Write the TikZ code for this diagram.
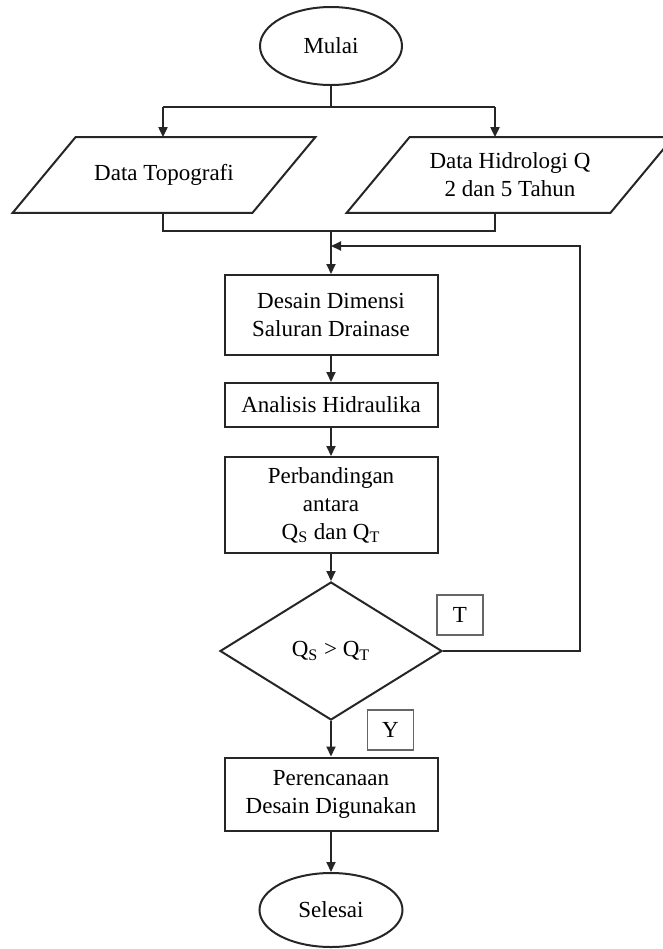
\documentclass[tikz,border=0pt]{standalone}
\usepackage{fontspec}
\setmainfont{Liberation Serif}
\usetikzlibrary{shapes.geometric, arrows.meta}

\tikzset{
  garis/.style={line width=1pt, draw=black!85},
  panah/.style={garis, -{Triangle[width=4.5pt,length=5pt]}},
  terminal/.style={ellipse, garis, align=center, inner sep=0pt},
  proses/.style={rectangle, garis, align=center, inner sep=0pt, minimum width=106.5pt},
  masukan/.style={rectangle, align=center, inner sep=0pt, minimum height=37.5pt},
  keputusan/.style={diamond, garis, align=center, inner sep=0pt,
    minimum width=111pt, minimum height=69pt},
  label/.style={rectangle, draw=black!60, line width=0.6pt, inner sep=0pt,
    minimum width=23pt, minimum height=20pt}
}

% jajaran genjang di sekeliling node masukan
\newcommand{\jajargenjang}[1]{%
  \draw[garis] ([xshift=-15.75pt]#1.south west) -- ([xshift=15.75pt]#1.north west)
    -- ([xshift=15.75pt]#1.north east) -- ([xshift=-15.75pt]#1.south east) -- cycle;}

\begin{document}
\begin{tikzpicture}[x=0.5pt, y=-0.5pt, font=\fontsize{11.5}{14}\selectfont]
    \useasboundingbox (0,0) rectangle (663,949);
    \clip (0,0) rectangle (663,949);

    %% mulai
    \node[terminal, minimum width=71pt, minimum height=39pt] (mulai) at (331,46) {Mulai};

    %% data masukan
    \node[masukan, minimum width=119.5pt] (topo) at (164,175) {Data Topografi};
    \node[masukan, minimum width=131.5pt] (hidro) at (510,175)
      {Data Hidrologi Q\\2 dan 5 Tahun};
    \jajargenjang{topo}
    \jajargenjang{hidro}

    %% proses
    \node[proses, minimum height=40pt] (desain) at (331,315)
      {Desain Dimensi\\Saluran Drainase};
    \node[proses, minimum height=22pt] (analisis) at (331,405) {Analisis Hidraulika};
    \node[proses, minimum height=48pt] (banding) at (331,505)
      {Perbandingan\\antara\\Q\textsubscript{S} dan Q\textsubscript{T}};
    \node[keputusan] (cek) at (331,651) {Q\textsubscript{S} > Q\textsubscript{T}};
    \node[proses, minimum height=36.5pt] (rencana) at (331,794)
      {Perencanaan\\Desain Digunakan};
    \node[terminal, minimum width=71.5pt, minimum height=37pt] (selesai) at (331,910) {Selesai};

    %% label T dan Y
    \node[label] (tidak) at (460,615) {T};
    \node[label] (ya) at (390.5,730) {Y};

    %% titik bantu
    \coordinate (cabang) at (331,107);
    \coordinate (cabangKi) at (163,107);
    \coordinate (cabangKa) at (495,107);
    \coordinate (gabung) at (331,231);
    \coordinate (gabungKi) at (163,231);
    \coordinate (gabungKa) at (495,231);
    \coordinate (balik) at (331,246);
    \coordinate (kanan) at (580,651);
    \coordinate (kananAtas) at (580,246);

    %% percabangan
    \draw[garis] (mulai.south) -- (cabang);
    \draw[garis] (cabangKi) -- (cabangKa);
    \draw[panah] (cabangKi) -- (cabangKi |- topo.north);
    \draw[panah] (cabangKa) -- (cabangKa |- hidro.north);

    %% penggabungan
    \draw[garis] (gabungKi |- topo.south) -- (gabungKi) -- (gabungKa) -- (gabungKa |- hidro.south);
    \draw[panah] (gabung) -- (desain.north);

    %% alur utama
    \draw[panah] (desain) -- (analisis);
    \draw[panah] (analisis) -- (banding);
    \draw[panah] (banding) -- (cek);
    \draw[panah] (cek) -- (rencana);
    \draw[panah] (rencana) -- (selesai);

    %% umpan balik
    \draw[panah] (cek.east) -- (kanan) -- (kananAtas) -- (balik);
  \end{tikzpicture}
\end{document}
